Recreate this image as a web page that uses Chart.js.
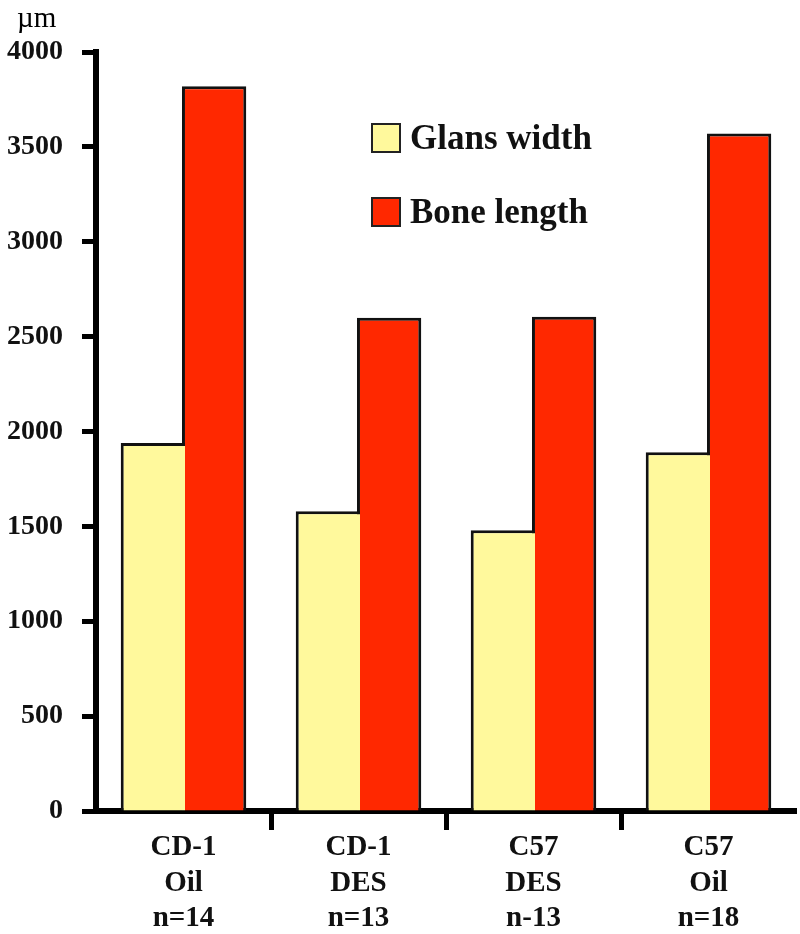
<!DOCTYPE html>
<html>
<head>
<meta charset="utf-8">
<title>Glans width and bone length</title>
<script src="https://cdn.jsdelivr.net/npm/chart.js@4.4.1/dist/chart.umd.min.js"></script>
<style>
  html, body { margin: 0; padding: 0; background: #fff; }
  #myChart { display: block; }
</style>
</head>
<body>
<canvas id="myChart" width="800" height="934"></canvas>
<script>
// values (micrometres)
let groupLabels = [
    ['CD-1', 'Oil', 'n=14'],
    ['CD-1', 'DES', 'n=13'],
    ['C57', 'DES', 'n-13'],
    ['C57', 'Oil', 'n=18']
];
let glansWidth = [1940, 1580, 1480, 1890];
let boneLength = [3820, 2600, 2605, 3570];
let yTicks = [0, 500, 1000, 1500, 2000, 2500, 3000, 3500, 4000];
let seriesNames = ['Glans width', 'Bone length'];
let unitLabel = 'µm';

var serif = "'Liberation Serif', 'Times New Roman', serif";

// legend sits inside the plot, so draw it by hand from the datasets
var insideLegend = {
    id: 'insideLegend',
    afterDraw(chart) {
        var ctx = chart.ctx;
        ctx.save();
        // unit above the y axis
        ctx.font = '29px ' + serif;
        ctx.fillStyle = '#000';
        ctx.textAlign = 'left';
        ctx.textBaseline = 'middle';
        ctx.fillText(unitLabel, 17, 19);

        ctx.font = 'bold 35px ' + serif;
        chart.data.datasets.forEach(function (ds, i) {
            var top = 123 + i * 74;
            ctx.fillStyle = ds.backgroundColor;
            ctx.fillRect(371, top, 30, 30);
            ctx.strokeStyle = '#222';
            ctx.lineWidth = 2;
            ctx.strokeRect(372, top + 1, 28, 28);
            ctx.fillStyle = '#111';
            ctx.fillText(ds.label, 410, top + 17);
        });
        ctx.restore();
    }
};

var ctx = document.getElementById('myChart').getContext('2d');
var chart = new Chart(ctx, {
    type: 'bar',
    data: {
        labels: groupLabels,
        datasets: [{
            label: seriesNames[0],
            data: glansWidth,
            backgroundColor: '#FFF99C',
            borderColor: '#111',
            borderWidth: { top: 3, left: 3, right: 0, bottom: 0 },
            borderSkipped: false
        }, {
            label: seriesNames[1],
            data: boneLength,
            backgroundColor: '#FF2800',
            borderColor: '#111',
            borderWidth: { top: 3, left: 3, right: 3, bottom: 0 },
            borderSkipped: false
        }]
    },
    options: {
        responsive: false,
        animation: false,
        devicePixelRatio: 1,
        categoryPercentage: 0.7,
        barPercentage: 1.05,
        layout: { padding: { top: 52, right: 4, left: 0, bottom: 0 } },
        plugins: {
            legend: { display: false },
            tooltip: { enabled: false }
        },
        scales: {
            x: {
                z: 1,
                border: { color: '#000', width: 6 },
                grid: {
                    offset: true,
                    drawOnChartArea: false,
                    tickLength: 19,
                    tickWidth: 5,
                    // only the marks between the groups
                    tickColor: function (c) {
                        return (c.index >= 1 && c.index <= 3) ? '#000' : 'rgba(0,0,0,0)';
                    }
                },
                ticks: {
                    color: '#111',
                    padding: 0,
                    maxRotation: 0,
                    autoSkip: false,
                    font: { family: serif, size: 29, weight: 'bold', lineHeight: 1.22 }
                },
                afterFit: function (scale) { scale.height = 123; }
            },
            y: {
                z: 1,
                min: 0,
                max: 4000,
                afterBuildTicks: function (scale) {
                    scale.ticks = yTicks.map(function (v) { return { value: v }; });
                },
                border: { color: '#000', width: 6 },
                grid: {
                    drawOnChartArea: false,
                    tickLength: 14,
                    tickWidth: 5,
                    tickColor: '#000'
                },
                ticks: {
                    color: '#111',
                    padding: 19,
                    font: { family: serif, size: 28, weight: 'bold' },
                    callback: function (v) { return String(v); }
                },
                afterFit: function (scale) { scale.width = 96; }
            }
        }
    },
    plugins: [insideLegend]
});
</script>
</body>
</html>
